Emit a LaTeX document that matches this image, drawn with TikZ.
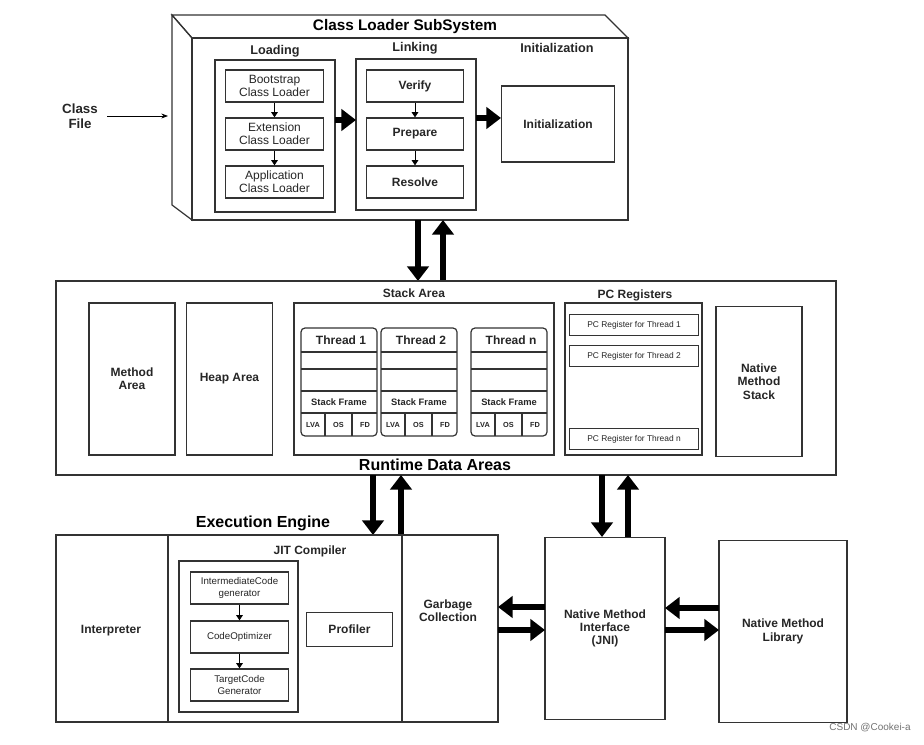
\documentclass[tikz,border=0pt]{standalone}
\usepackage{fontspec}
\setmainfont{Liberation Sans}
\usetikzlibrary{arrows.meta}
\begin{document}
\begin{tikzpicture}[x=0.75pt,y=-0.75pt,
  bx/.style={draw=black!80,line width=0.9pt},
  lbl/.style={font=\fontsize{9}{10}\selectfont\bfseries,align=center,text=black!85},
  sm/.style={font=\fontsize{9}{9.5}\selectfont,align=center,text=black!85},
  tiny/.style={font=\fontsize{5.5}{6}\selectfont,align=center,text=black!85},
  ttl/.style={font=\fontsize{11.5}{12}\selectfont\bfseries},
  big/.style={-{Triangle[length=11pt,width=16pt]},line width=4.5pt},
  thin/.style={-{Triangle[length=4pt,width=5pt]},line width=0.7pt}]
\useasboundingbox (0,0) rectangle (924,745);
\fill[white] (0,0) rectangle (924,745);
% Class loader
\draw[bx] (172,15) -- (605,15) -- (628,38) -- (192,38) -- cycle;
\draw[bx] (172,15) -- (192,38) -- (192,220) -- (172,205) -- cycle;
\draw[bx] (192,38) rectangle (628,220);
\node[ttl] (clt) at (405,27) {Class Loader SubSystem};
\node[lbl,font=\fontsize{9.5}{10}\selectfont\bfseries] (lol) at (275,51) {Loading};
\draw[bx] (215,60) rectangle (335,212);
\node[bx,sm,minimum width=74pt,minimum height=24pt] (boot) at (274.5,86) {Bootstrap\\Class Loader};
\node[bx,sm,minimum width=74pt,minimum height=24pt] (ext) at (274.5,134) {Extension\\Class Loader};
\node[bx,sm,minimum width=74pt,minimum height=24pt] (app) at (274.5,182) {Application\\Class Loader};
\draw[thin] (boot) -- (ext); \draw[thin] (ext) -- (app);
\node[lbl,font=\fontsize{9.5}{10}\selectfont\bfseries] (lil) at (415,48) {Linking};
\draw[bx] (356,59) rectangle (476,210);
\node[bx,lbl,minimum width=73pt,minimum height=24pt] (ver) at (415,86) {Verify};
\node[bx,lbl,minimum width=73pt,minimum height=24pt] (pre) at (415,134) {Prepare};
\node[bx,lbl,minimum width=73pt,minimum height=24pt] (res) at (415,182) {Resolve};
\draw[thin] (ver) -- (pre); \draw[thin] (pre) -- (res);
\node[lbl,font=\fontsize{9.5}{10}\selectfont\bfseries] (inl) at (557,48) {Initialization};
\node[bx,lbl,minimum width=85pt,minimum height=57pt] (ini) at (558,124) {Initialization};
\coordinate (lo1) at (335,120); \coordinate (lo2) at (356,120);
\draw[big] (lo1) -- (lo2);
\coordinate (li1) at (476,118); \coordinate (li2) at (501,118);
\draw[big] (li1) -- (li2);
\node[lbl,font=\fontsize{10}{11}\selectfont\bfseries] (cf) at (80,116) {Class\\File};
\coordinate (cfa) at (168,116);
\draw[-{Stealth[length=5pt]},line width=0.7pt] (107,116) -- (cfa);
% CL <-> runtime
\coordinate (a1) at (418,220); \coordinate (a2) at (418,281);
\draw[big] (a1) -- (a2);
\coordinate (a3) at (443,281); \coordinate (a4) at (443,220);
\draw[big] (a3) -- (a4);
% Runtime
\draw[bx] (56,281) rectangle (836,475);
\node[ttl,font=\fontsize{12}{13}\selectfont\bfseries] (rda) at (435,465) {Runtime Data Areas};
\node[bx,lbl,minimum width=64.5pt,minimum height=114pt] (ma) at (132,379) {Method\\Area};
\node[bx,lbl,minimum width=64pt,minimum height=114pt] (ha) at (229.5,379) {Heap Area};
\node[lbl] (sal) at (414,293) {Stack Area};
\draw[bx] (294,303) rectangle (554,455);
\foreach \x/\t in {301/Thread 1,381/Thread 2,471/Thread n}{
  \draw[bx,rounded corners=3pt] (\x,328) rectangle (\x+76,436);
  \draw[bx] (\x,352) -- (\x+76,352) (\x,369) -- (\x+76,369) (\x,391) -- (\x+76,391) (\x,413) -- (\x+76,413);
  \draw[bx] (\x+24,413) -- (\x+24,436) (\x+51,413) -- (\x+51,436);
  \node[lbl,font=\fontsize{9}{10}\selectfont\bfseries] at (\x+40,340) {\t};
  \node[sm,font=\fontsize{7}{8}\selectfont\bfseries] at (\x+38,402) {Stack Frame};
  \node[tiny,font=\fontsize{5.5}{6}\selectfont\bfseries] at (\x+12,424.5) {LVA};
  \node[tiny,font=\fontsize{5.5}{6}\selectfont\bfseries] at (\x+37.5,424.5) {OS};
  \node[tiny,font=\fontsize{5.5}{6}\selectfont\bfseries] at (\x+64,424.5) {FD};
}
\node[lbl] (pcl) at (635,295) {PC Registers};
\draw[bx] (565,303) rectangle (702,455);
\node[bx,tiny,font=\fontsize{6.3}{7}\selectfont,minimum width=97pt,minimum height=16pt] (pc1) at (634,325) {PC Register for Thread 1};
\node[bx,tiny,font=\fontsize{6.3}{7}\selectfont,minimum width=97pt,minimum height=16pt] (pc2) at (634,356) {PC Register for Thread 2};
\node[bx,tiny,font=\fontsize{6.3}{7}\selectfont,minimum width=97pt,minimum height=16pt] (pcn) at (634,439) {PC Register for Thread n};
\node[bx,lbl,minimum width=64.5pt,minimum height=113pt] (nms) at (759,381.5) {Native\\Method\\Stack};
% runtime <-> exec
\coordinate (b1) at (373,475); \coordinate (b2) at (373,535);
\draw[big] (b1) -- (b2);
\coordinate (b3) at (401,535); \coordinate (b4) at (401,475);
\draw[big] (b3) -- (b4);
\coordinate (c1) at (602,475); \coordinate (c2) at (602,537);
\draw[big] (c1) -- (c2);
\coordinate (c3) at (628,537); \coordinate (c4) at (628,475);
\draw[big] (c3) -- (c4);
% Execution engine
\node[ttl,font=\fontsize{12}{13}\selectfont\bfseries] (eel) at (263,523) {Execution Engine};
\draw[bx] (56,535) rectangle (498,722);
\draw[bx] (168,535) -- (168,722) (402,535) -- (402,722);
\node[lbl] (int) at (111,631) {Interpreter};
\node[lbl] (gc) at (448,611) {Garbage\\Collection};
\node[lbl] (jit) at (310,551) {JIT Compiler};
\draw[bx] (179,561) rectangle (298,712);
\node[bx,tiny,font=\fontsize{7.3}{8.5}\selectfont,minimum width=73pt,minimum height=24pt] (icg) at (239.5,588) {IntermediateCode\\generator};
\node[bx,tiny,font=\fontsize{7.3}{8.5}\selectfont,minimum width=73pt,minimum height=24pt] (co) at (239.5,637) {CodeOptimizer};
\node[bx,tiny,font=\fontsize{7.3}{8.5}\selectfont,minimum width=73pt,minimum height=24pt] (tcg) at (239.5,685) {TargetCode\\Generator};
\draw[thin] (icg) -- (co); \draw[thin] (co) -- (tcg);
\node[bx,lbl,minimum width=65pt,minimum height=25pt] (prof) at (349.5,629.5) {Profiler};
\node[bx,lbl,minimum width=90pt,minimum height=137pt] (jni) at (605,628.5) {Native Method\\Interface\\(JNI)};
\node[bx,lbl,minimum width=96pt,minimum height=136pt] (nml) at (783,631.5) {Native Method\\Library};
\coordinate (d1) at (545,607); \coordinate (d2) at (498,607);
\draw[big] (d1) -- (d2);
\coordinate (d3) at (498,630); \coordinate (d4) at (545,630);
\draw[big] (d3) -- (d4);
\coordinate (e1) at (719,608); \coordinate (e2) at (665,608);
\draw[big] (e1) -- (e2);
\coordinate (e3) at (665,630); \coordinate (e4) at (719,630);
\draw[big] (e3) -- (e4);
\node[font=\fontsize{7.5}{8}\selectfont,text=black!55] (wm) at (870,728) {CSDN @Cookei-a};
\end{tikzpicture}
\end{document}
